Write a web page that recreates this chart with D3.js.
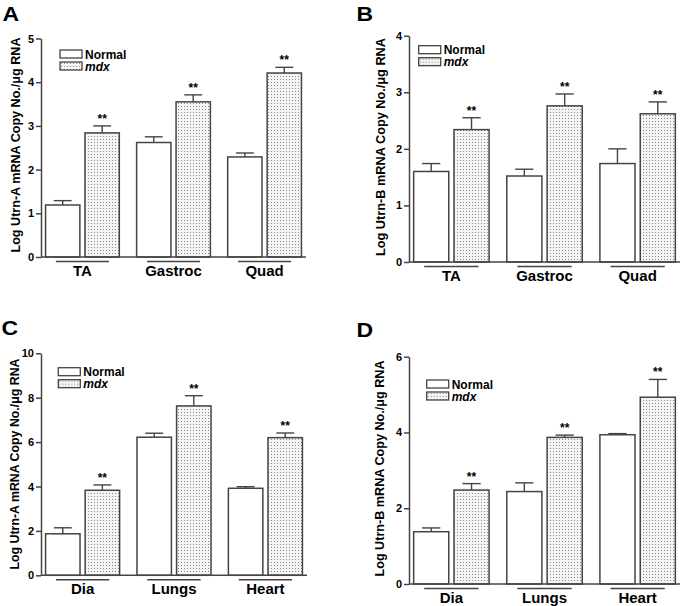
<!DOCTYPE html>
<html>
<head>
<meta charset="utf-8">
<script src="https://cdn.jsdelivr.net/npm/d3@7"></script>
<style>
  body { margin: 0; background: #fff; }
  text { font-family: "Liberation Sans", Arial, Helvetica, sans-serif; font-weight: bold; fill: #000; }
</style>
</head>
<body>
<svg id="fig" width="683" height="606"></svg>
<script>
// ---- data ----
var muscles = ["TA", "Gastroc", "Quad"];
var organs = ["Dia", "Lungs", "Heart"];
var groups = ["Normal", "mdx"];

// A : Utrn-A, skeletal muscles
var aNormal = [1.19, 2.62, 2.29];
var aNormalErr = [0.10, 0.13, 0.09];
var aMdx = [2.84, 3.55, 4.21];
var aMdxErr = [0.16, 0.16, 0.13];
var aTicks = [0, 1, 2, 3, 4, 5];

// B : Utrn-B, skeletal muscles
var bNormal = [1.60, 1.52, 1.74];
var bNormalErr = [0.14, 0.12, 0.26];
var bMdx = [2.34, 2.76, 2.62];
var bMdxErr = [0.21, 0.21, 0.21];
var bTicks = [0, 1, 2, 3, 4];

// C : Utrn-A, other tissues
var cNormal = [1.87, 6.22, 3.92];
var cNormalErr = [0.27, 0.18, 0.07];
var cMdx = [3.83, 7.63, 6.20];
var cMdxErr = [0.24, 0.46, 0.21];
var cTicks = [0, 2, 4, 6, 8, 10];

// D : Utrn-B, other tissues
var dNormal = [1.38, 2.44, 3.94];
var dNormalErr = [0.10, 0.23, 0.03];
var dMdx = [2.48, 3.87, 4.93];
var dMdxErr = [0.17, 0.06, 0.47];
var dTicks = [0, 2, 4, 6];

var svg = d3.select("#fig");
var ink = "#444";

// dotted fill for the mdx bars
var defs = svg.append("defs");
var pat = defs.append("pattern")
  .attr("id", "dots")
  .attr("patternUnits", "userSpaceOnUse")
  .attr("width", 3).attr("height", 3);
pat.append("rect").attr("width", 3).attr("height", 3).attr("fill", "#f4f4f4");
pat.append("rect").attr("x", 1).attr("y", 1).attr("width", 1).attr("height", 1).attr("fill", "#8a8a8a");

function drawPanel(p) {
  var g = svg.append("g").attr("class", "panel");

  var y = d3.scaleLinear().domain([0, p.ticks[p.ticks.length - 1]]).range([p.bottom, p.top]);
  var x = d3.scaleBand().domain(p.cats).range([p.left, p.right]).paddingInner(0.19).paddingOuter(0.05);
  var xs = d3.scaleBand().domain(groups).range([0, x.bandwidth()]).paddingInner(0.13);

  var rows = p.cats.map(function(c, i) {
    return [
      {cat: c, grp: "Normal", v: p.normal[i], e: p.normalErr[i]},
      {cat: c, grp: "mdx", v: p.mdx[i], e: p.mdxErr[i]}
    ];
  });
  rows = d3.merge(rows);

  // error bars (upper only)
  var eb = g.selectAll("g.err").data(rows).enter().append("g").attr("class", "err")
    .attr("stroke", ink).attr("stroke-width", 1.4);
  eb.append("line")
    .attr("x1", function(d) { return x(d.cat) + xs(d.grp) + xs.bandwidth() / 2; })
    .attr("x2", function(d) { return x(d.cat) + xs(d.grp) + xs.bandwidth() / 2; })
    .attr("y1", function(d) { return y(d.v); })
    .attr("y2", function(d) { return y(d.v + d.e); });
  eb.append("line")
    .attr("x1", function(d) { return x(d.cat) + xs(d.grp) + xs.bandwidth() * 0.24; })
    .attr("x2", function(d) { return x(d.cat) + xs(d.grp) + xs.bandwidth() * 0.76; })
    .attr("y1", function(d) { return y(d.v + d.e); })
    .attr("y2", function(d) { return y(d.v + d.e); });

  // bars
  g.selectAll("rect.bar").data(rows).enter().append("rect")
    .attr("class", "bar")
    .attr("x", function(d) { return x(d.cat) + xs(d.grp); })
    .attr("y", function(d) { return y(d.v); })
    .attr("width", xs.bandwidth())
    .attr("height", function(d) { return y(0) - y(d.v); })
    .attr("fill", function(d) { return d.grp === "mdx" ? "url(#dots)" : "#fff"; })
    .attr("stroke", ink).attr("stroke-width", 1.5);

  // significance stars over mdx
  g.selectAll("text.star").data(rows.filter(function(d) { return d.grp === "mdx"; })).enter().append("text")
    .attr("class", "star")
    .attr("x", function(d) { return x(d.cat) + xs(d.grp) + xs.bandwidth() / 2; })
    .attr("y", function(d) { return y(d.v + d.e) - 3; })
    .attr("text-anchor", "middle")
    .attr("font-size", 12)
    .text("**");

  // y axis
  var ax = g.append("g").attr("transform", "translate(" + p.left + ",0)")
    .call(d3.axisLeft(y).tickValues(p.ticks).tickFormat(d3.format("d"))
      .tickSize(5).tickSizeOuter(0).tickPadding(2));
  ax.select(".domain").attr("stroke", ink).attr("stroke-width", 1.5);
  ax.selectAll(".tick line").attr("stroke", ink).attr("stroke-width", 1.5);
  ax.selectAll(".tick text").attr("font-size", 11).attr("font-family", null).attr("fill", "#000");

  // x axis baseline
  g.append("line")
    .attr("x1", p.left).attr("x2", p.right)
    .attr("y1", y(0)).attr("y2", y(0))
    .attr("stroke", ink).attr("stroke-width", 1.5);

  // category underline + label
  var cg = g.selectAll("g.cat").data(p.cats).enter().append("g").attr("class", "cat");
  cg.append("line")
    .attr("x1", function(d) { return x(d) + x.bandwidth() * 0.14; })
    .attr("x2", function(d) { return x(d) + x.bandwidth() * 0.86; })
    .attr("y1", y(0) + 4.5).attr("y2", y(0) + 4.5)
    .attr("stroke", ink).attr("stroke-width", 1.5);
  cg.append("text")
    .attr("x", function(d) { return x(d) + x.bandwidth() / 2; })
    .attr("y", y(0) + 18.5)
    .attr("text-anchor", "middle")
    .attr("font-size", 15)
    .text(function(d) { return d; });

  // y title
  g.append("text")
    .attr("transform", "translate(" + p.titleX + "," + p.titleY + ") rotate(-90)")
    .attr("text-anchor", "middle")
    .attr("font-size", 12.5)
    .attr("textLength", p.titleLen)
    .attr("lengthAdjust", "spacingAndGlyphs")
    .text(p.title);

  // legend
  var lg = g.append("g").attr("transform", "translate(" + p.legX + "," + p.legY + ")");
  lg.selectAll("rect").data(groups).enter().append("rect")
    .attr("x", 0)
    .attr("y", function(d, i) { return i * 12; })
    .attr("width", 22).attr("height", 8)
    .attr("fill", function(d) { return d === "mdx" ? "url(#dots)" : "#fff"; })
    .attr("stroke", ink).attr("stroke-width", 1.3);
  lg.selectAll("text").data(groups).enter().append("text")
    .attr("x", 25)
    .attr("y", function(d, i) { return i * 12 + 8.5; })
    .attr("font-size", 12)
    .attr("font-style", function(d) { return d === "mdx" ? "italic" : null; })
    .text(function(d) { return d; });

  // panel letter
  g.append("text")
    .attr("transform", "translate(" + p.letX + "," + p.letY + ") scale(1.15,1)")
    .attr("font-size", 20)
    .text(p.letter);
}

drawPanel({
  letter: "A", letX: 2.5, letY: 21,
  cats: muscles, normal: aNormal, normalErr: aNormalErr, mdx: aMdx, mdxErr: aMdxErr, ticks: aTicks,
  left: 41, right: 306, top: 38.5, bottom: 257,
  title: "Log Utrn-A mRNA Copy No./\u03bcg RNA", titleX: 19.5, titleY: 145, titleLen: 215,
  legX: 60, legY: 50
});
drawPanel({
  letter: "B", letX: 356.5, letY: 21,
  cats: muscles, normal: bNormal, normalErr: bNormalErr, mdx: bMdx, mdxErr: bMdxErr, ticks: bTicks,
  left: 409, right: 680, top: 35.7, bottom: 262,
  title: "Log Utrn-B mRNA Copy No./\u03bcg  RNA", titleX: 385, titleY: 147, titleLen: 218,
  legX: 418.7, legY: 45.7
});
drawPanel({
  letter: "C", letX: 1.5, letY: 335,
  cats: organs, normal: cNormal, normalErr: cNormalErr, mdx: cMdx, mdxErr: cMdxErr, ticks: cTicks,
  left: 41, right: 307, top: 353.3, bottom: 575.3,
  title: "Log Utrn-A mRNA Copy No./\u03bcg RNA", titleX: 19, titleY: 464, titleLen: 211,
  legX: 58.3, legY: 367.7
});
drawPanel({
  letter: "D", letX: 356.5, letY: 337.3,
  cats: organs, normal: dNormal, normalErr: dNormalErr, mdx: dMdx, mdxErr: dMdxErr, ticks: dTicks,
  left: 409, right: 680, top: 356.7, bottom: 584,
  title: "Log Utrn-B mRNA Copy No./\u03bcg RNA", titleX: 384, titleY: 468.5, titleLen: 216,
  legX: 426.7, legY: 380
});
</script>
</body>
</html>
